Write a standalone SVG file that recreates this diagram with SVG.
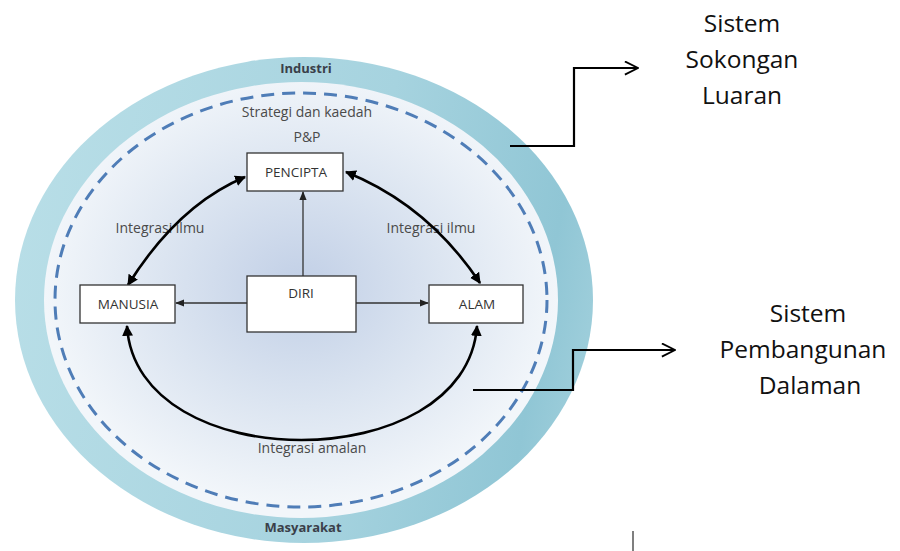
<svg xmlns="http://www.w3.org/2000/svg" width="900" height="551" viewBox="0 0 900 551">
<defs>
<linearGradient id="ringGrad" x1="0" y1="0.35" x2="1" y2="0.5">
<stop offset="0" stop-color="#b8dee7"/>
<stop offset="0.6" stop-color="#a6d3df"/>
<stop offset="0.92" stop-color="#90c6d5"/>
<stop offset="1" stop-color="#9ccdda"/>
</linearGradient>
<radialGradient id="innerGrad" cx="0.5" cy="0.47" r="0.5">
<stop offset="0" stop-color="#c1cfe6"/>
<stop offset="0.55" stop-color="#dce5f1"/>
<stop offset="1" stop-color="#f2f6fa"/>
</radialGradient>
<marker id="ah" viewBox="0 0 10 10" refX="9" refY="5" markerWidth="4.2" markerHeight="4.2" orient="auto-start-reverse">
<path d="M0,0 L10,5 L0,10 z" fill="#000"/>
</marker>
<marker id="ahs" viewBox="0 0 10 10" refX="9" refY="5" markerWidth="7" markerHeight="7" orient="auto">
<path d="M0,1 L10,5 L0,9 z" fill="#222"/>
</marker>
<marker id="chev" viewBox="0 0 16 16" refX="15" refY="8" markerWidth="15" markerHeight="15" markerUnits="userSpaceOnUse" orient="auto">
<path d="M1,1 L15,8 L1,15" fill="none" stroke="#000" stroke-width="2"/>
</marker>
</defs>
<style>
.box{fill:#fff;stroke:#333;stroke-width:1.3}
.lbl{font-family:"Open Sans","Noto Sans",sans-serif;font-size:14px;fill:#4a4a4a;text-anchor:middle}
.blbl{font-family:"Open Sans","Noto Sans",sans-serif;font-size:13.5px;fill:#333;text-anchor:middle}
.bold{font-family:"Open Sans","Noto Sans",sans-serif;font-size:13px;font-weight:bold;fill:#3a3f4a;text-anchor:middle}
.big{font-family:"Open Sans","Noto Sans",sans-serif;font-size:24.5px;fill:#111;text-anchor:middle}
.arc{fill:none;stroke:#000;stroke-width:2.6;marker-start:url(#ah);marker-end:url(#ah)}
.str{fill:none;stroke:#333;stroke-width:1.3;marker-end:url(#ahs)}
.conn{fill:none;stroke:#000;stroke-width:2.2;marker-end:url(#chev)}
</style>
<g id="background">
<ellipse cx="304" cy="300" rx="289" ry="243" fill="url(#ringGrad)"/>
<ellipse cx="301" cy="300" rx="257" ry="218" fill="url(#innerGrad)"/>
<ellipse cx="301" cy="300" rx="246" ry="207" fill="none" stroke="#4f7db7" stroke-width="3" stroke-dasharray="13 8"/>
</g>
<g id="labels">
<text class="bold" x="306" y="73">Industri</text>
<text class="lbl" x="307" y="117">Strategi dan kaedah</text>
<text class="lbl" x="307" y="142">P&amp;P</text>
<text class="lbl" x="160" y="233">Integrasi ilmu</text>
<text class="lbl" x="431" y="233">Integrasi ilmu</text>
<text class="lbl" x="312" y="453">Integrasi amalan</text>
<text class="bold" x="303" y="532">Masyarakat</text>
</g>
<g id="connectors">
<path class="arc" d="M128,285 Q178,205 245,177"/>
<path class="arc" d="M346,172 Q428,205 480,283"/>
<path class="arc" d="M127,326 C136,478 466,478 477,326"/>
<line class="str" x1="303" y1="276" x2="303" y2="192"/>
<line class="str" x1="247" y1="303" x2="176" y2="303"/>
<line class="str" x1="356" y1="303" x2="428" y2="303"/>
<path class="conn" d="M510,146 H574 V68 H638"/>
<path class="conn" d="M473,390 H573 V350 H675"/>
</g>
<g id="node-pencipta">
<rect class="box" x="247" y="153" width="96" height="38"/>
<text class="blbl" x="296" y="176.5">PENCIPTA</text>
</g>
<g id="node-diri">
<rect class="box" x="247" y="276" width="109" height="56"/>
<text class="blbl" x="301" y="298">DIRI</text>
</g>
<g id="node-manusia">
<rect class="box" x="80" y="285" width="95" height="38"/>
<text class="blbl" x="128" y="308.5">MANUSIA</text>
</g>
<g id="node-alam">
<rect class="box" x="429" y="285" width="94" height="38"/>
<text class="blbl" x="477" y="308.5">ALAM</text>
</g>
<g id="node-sokongan">
<text class="big" x="742" y="32">Sistem</text>
<text class="big" x="742" y="68">Sokongan</text>
<text class="big" x="742" y="104">Luaran</text>
</g>
<g id="node-pembangunan">
<text class="big" x="808" y="322">Sistem</text>
<text class="big" x="803" y="358">Pembangunan</text>
<text class="big" x="810" y="394">Dalaman</text>
</g>
<line x1="633" y1="531" x2="633" y2="551" stroke="#555" stroke-width="1.5"/>
</svg>
